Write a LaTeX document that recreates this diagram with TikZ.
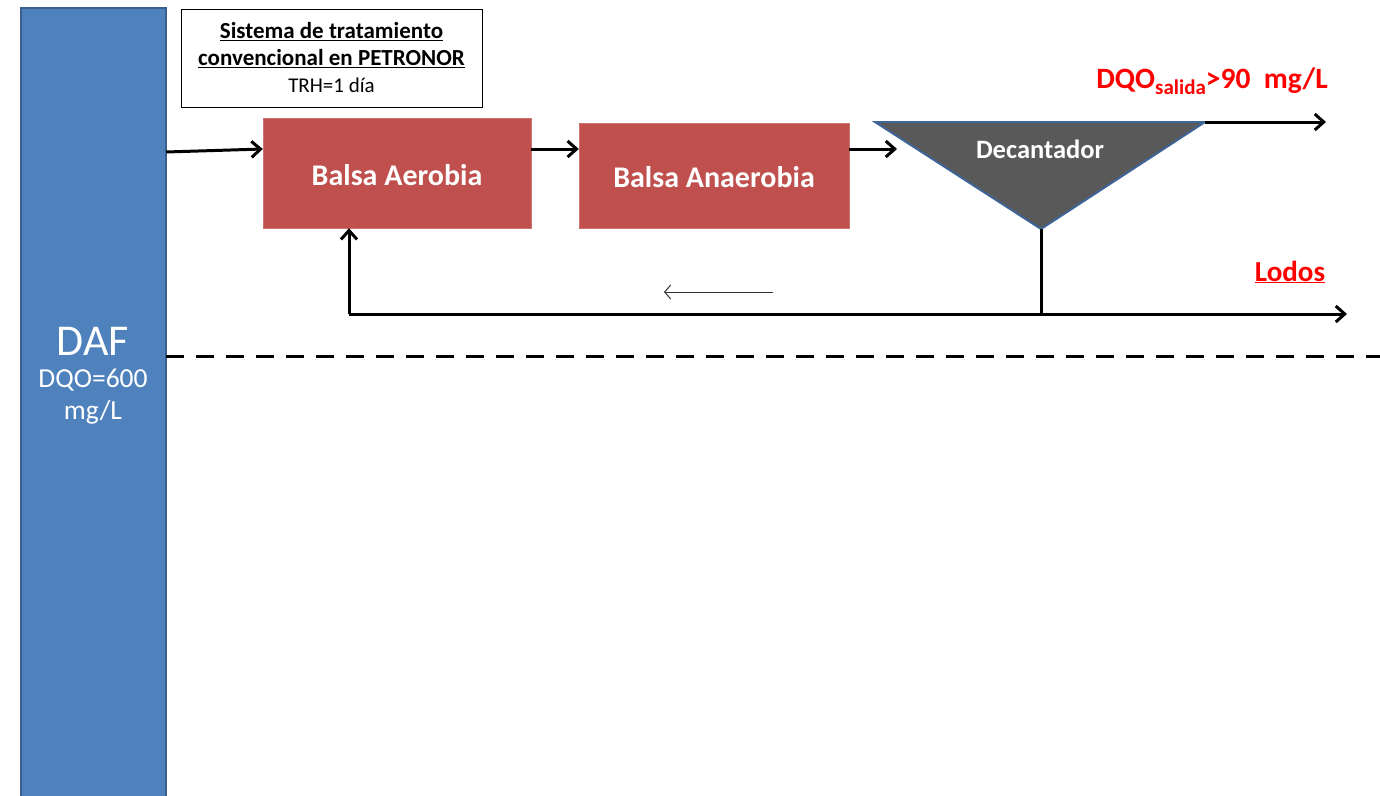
\documentclass[tikz,border=0pt]{standalone}
\usepackage{fontspec}
\setmainfont{Carlito}
\usetikzlibrary{arrows.meta}
\definecolor{dafblue}{HTML}{4F81BD}
\definecolor{dafborder}{HTML}{3A5F8F}
\definecolor{balsared}{HTML}{C0504D}
\definecolor{decgray}{HTML}{595959}
\definecolor{decborder}{HTML}{3F6497}
\definecolor{labred}{HTML}{FF0000}
\tikzset{
  flow/.style={line width=3pt, -{Straight Barb[length=9pt,width=16pt,line width=3pt]}},
  pipe/.style={line width=3pt},
  balsa/.style={fill=balsared, draw=balsared!80!white, text=white, font=\fontsize{30}{34}\selectfont\bfseries},
}
\begin{document}
\begin{tikzpicture}[x=1pt,y=-1pt]
\useasboundingbox (0,0) rectangle (1380,795);
% DAF column
\fill[dafblue, draw=dafborder, line width=2pt] (21,8) rectangle (166,800);
\node[text=white, font=\fontsize{44}{48}\selectfont] (daf) at (93,341) {DAF};
\node[text=white, font=\fontsize{27.5}{32}\selectfont, align=center] (dafdqo) at (93,397) {DQO=600\\mg/L};
\coordinate (dafout) at (166,152);
% title box
\node[draw=black, line width=1pt, minimum width=301pt, minimum height=98pt, align=center, inner sep=0pt,
      font=\fontsize{23}{27}\selectfont] (title) at (331.5,58)
  {\textbf{\underline{Sistema de tratamiento}}\\
   \textbf{\underline{convencional en PETRONOR}}\\
   \fontsize{21}{27}\selectfont TRH=1 día};
% balsas
\node[balsa, minimum width=268pt, minimum height=110pt, inner sep=0pt, text depth=0pt] (aer) at (397,173) {\raisebox{-3pt}{Balsa Aerobia}};
\node[balsa, minimum width=270pt, minimum height=105pt, inner sep=0pt, text depth=0pt] (ana) at (714,175.5) {\raisebox{-3pt}{Balsa Anaerobia}};
% decantador
\coordinate (tl) at (875,122);
\coordinate (tr) at (1205,122);
\coordinate (tb) at (1041,229);
\filldraw[fill=decgray, draw=decborder, line width=2pt] (tl) -- (tr) -- (tb) -- cycle;
\node[text=white, font=\fontsize{26.5}{30}\selectfont\bfseries] (dec) at (1040,149) {Decantador};
% flows
\draw[flow] (dafout) -- (aer.west |- 0,149);
\draw[flow] (aer.east |- 0,149) -- (ana.west |- 0,149);
\coordinate (decin) at (897,149);
\draw[flow] (ana.east |- 0,149) -- (decin);
\coordinate (outend) at (1326,122);
\draw[flow] (tr) -- (outend);
\node[text=labred, font=\fontsize{29.5}{32}\selectfont\bfseries, anchor=base east, inner sep=0pt] (dqo) at (1328,88)
  {DQO\raisebox{-6pt}{\fontsize{21}{22}\selectfont salida}>90\ \ mg/L};
% sludge
\coordinate (junc) at (1041,314);
\coordinate (corner) at (349,314);
\coordinate (lodend) at (1347,314);
\draw[pipe] (tb) -- (junc);
\draw[flow] (corner) -- (lodend);
\draw[flow] (corner) -- (aer.south -| corner);
\node[text=labred, font=\fontsize{29}{32}\selectfont\bfseries, anchor=base] (lodos) at (1290,281) {\underline{Lodos}};
% thin arrow
\coordinate (ta) at (773,292);
\coordinate (tb2) at (664,292);
\draw[line width=1pt, draw=black!80, -{Straight Barb[length=6pt,width=14pt]}] (ta) -- (tb2);
% dashed line
\coordinate (d1) at (166,356);
\coordinate (d2) at (1380,356);
\draw[line width=3pt, dash pattern=on 18pt off 12pt] (d1) -- (d2);
\end{tikzpicture}
\end{document}
